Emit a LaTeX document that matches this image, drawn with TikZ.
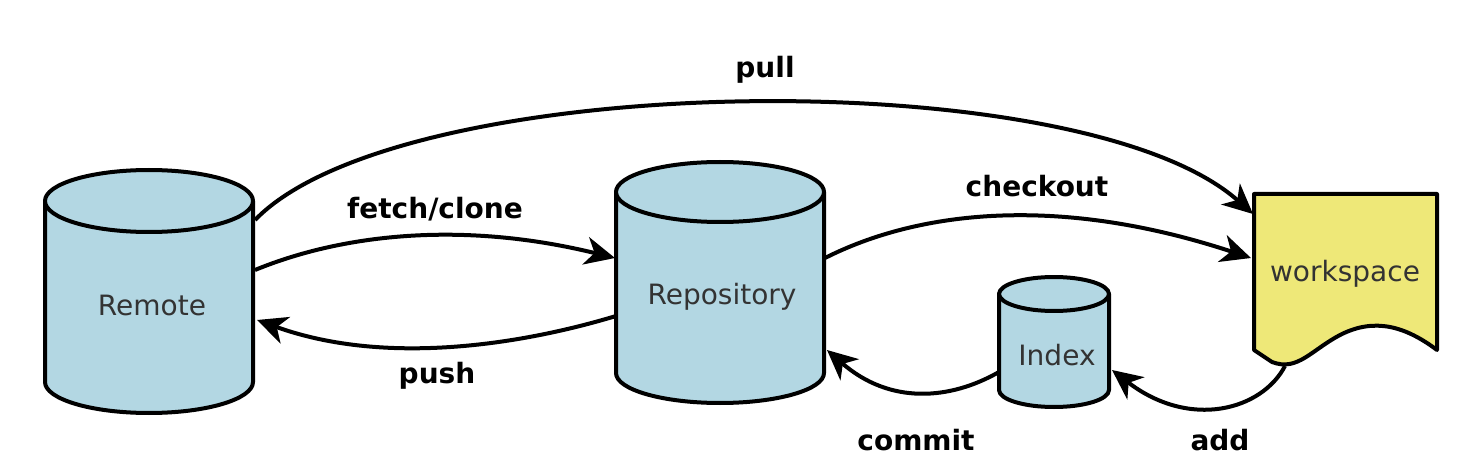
\documentclass[tikz,border=0pt]{standalone}
\usepackage{fontspec}
\setmainfont{DejaVu Sans}
\usetikzlibrary{arrows.meta}
\definecolor{cylblue}{HTML}{B3D7E3}
\definecolor{wsyellow}{HTML}{EEE878}
\definecolor{txtgray}{HTML}{333333}
\begin{document}
\begin{tikzpicture}[x=0.5pt,y=-0.5pt,
  shapeline/.style={draw=black,line width=2pt,line join=round},
  cyl/.style={shapeline,fill=cylblue},
  wsbox/.style={shapeline,fill=wsyellow},
  shapetext/.style={font=\fontsize{14}{17}\selectfont,text=txtgray,inner sep=0pt},
  lbl/.style={font=\fontsize{14}{17}\selectfont\bfseries,text=black,inner sep=0pt},
  conn/.style={line width=2pt,-{Stealth[length=15pt,width=14pt,inset=4.5pt]}}]
\useasboundingbox (0,0) rectangle (1480,476);
% Remote cylinder
\path[cyl] (45,201) -- (45,382) arc[start angle=180,end angle=0,x radius=104,y radius=31] -- (253,201) -- cycle;
\path[cyl] (149,201) ellipse[x radius=104,y radius=31];
% Repository cylinder
\path[cyl] (616,192) -- (616,373) arc[start angle=180,end angle=0,x radius=104,y radius=30] -- (824,192) -- cycle;
\path[cyl] (720,192) ellipse[x radius=104,y radius=30];
% Index cylinder
\path[cyl] (999,294) -- (999,390) arc[start angle=180,end angle=0,x radius=55,y radius=17] -- (1109,294) -- cycle;
\path[cyl] (1054,294) ellipse[x radius=55,y radius=17];
% workspace document
\path[wsbox] (1254,194) -- (1437,194) -- (1437,350)
  .. controls (1405,326) and (1375,318) .. (1342,334)
  .. controls (1312,349) and (1298,372) .. (1272,362) -- (1254,350) -- cycle;
% texts
\node[shapetext] (remote) at (152,305) {Remote};
\node[shapetext] (repo) at (722,297) {Repository};
\node[shapetext] (index) at (1057,355) {Index};
\node[shapetext] (ws) at (1345,274) {workspace};
% connector endpoints
\coordinate (rem-pull) at (255,220);
\coordinate (rem-fetch) at (255,270);
\coordinate (rem-push) at (257,320);
\coordinate (repo-fetch) at (615,258);
\coordinate (repo-push) at (616,316);
\coordinate (repo-co) at (825,258);
\coordinate (repo-commit) at (827,350);
\coordinate (ws-pull) at (1253,214);
\coordinate (ws-co) at (1251,258);
\coordinate (ws-add) at (1285,366);
\coordinate (idx-commit) at (999,372);
\coordinate (idx-add) at (1112,370);
% connectors
\draw[conn] (rem-pull) .. controls (400,70) and (1080,60) .. (ws-pull);
\draw[conn] (rem-fetch) .. controls (340,235) and (460,220) .. (repo-fetch);
\draw[conn] (repo-push) .. controls (530,342) and (390,368) .. (rem-push);
\draw[conn] (repo-co) .. controls (920,210) and (1060,195) .. (ws-co);
\draw[conn] (idx-commit) .. controls (950,400) and (890,405) .. (repo-commit);
\draw[conn] (ws-add) .. controls (1262,410) and (1190,430) .. (idx-add);
% labels
\node[lbl] (l-pull) at (765,70) {pull};
\node[lbl] (l-fetch) at (435,209) {fetch/clone};
\node[lbl] (l-co) at (1037,186) {checkout};
\node[lbl] (l-push) at (437,376) {push};
\node[lbl] (l-commit) at (916,440) {commit};
\node[lbl] (l-add) at (1220,440) {add};
\end{tikzpicture}
\end{document}
